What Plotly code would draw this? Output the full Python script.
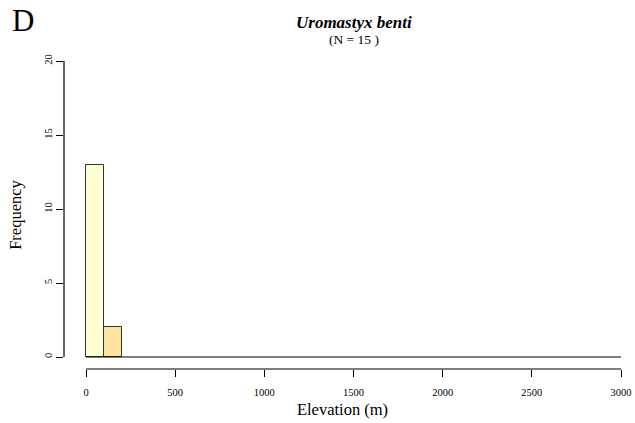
import plotly.graph_objects as go

bin_edges = list(range(0, 3100, 100))
counts = [13, 2] + [0] * 28
bar_colors = ["#FFFFD4", "#FFE4A0"]
x_ticks = [0, 500, 1000, 1500, 2000, 2500, 3000]
y_ticks = [0, 5, 10, 15, 20]
species = "Uromastyx benti"
n_total = sum(counts)

FONT = "Liberation Serif"
centers = [(bin_edges[i] + bin_edges[i + 1]) / 2 for i in range(len(counts))]
nz = [i for i, c in enumerate(counts) if c > 0]

fig = go.Figure()
fig.add_trace(go.Scatter(
    x=[bin_edges[0], bin_edges[-1]], y=[0, 0], mode="lines",
    line=dict(color="black", width=1.2), hoverinfo="skip", showlegend=False))
fig.add_trace(go.Bar(
    x=[centers[i] for i in nz], y=[counts[i] for i in nz], width=100,
    marker=dict(color=[bar_colors[k % len(bar_colors)] for k in range(len(nz))],
                line=dict(color="#333333", width=1)),
    showlegend=False))

fig.update_layout(
    width=635, height=423,
    margin=dict(l=64, r=14, t=61, b=54),
    plot_bgcolor="white", paper_bgcolor="white",
    font=dict(family=FONT, color="black"),
    bargap=0,
    xaxis=dict(range=[-123.4, 3000], tickvals=x_ticks, ticks="outside", ticklen=7,
               tickcolor="black", showgrid=False, zeroline=False, showline=False,
               automargin=False, ticklabelstandoff=6,
               tickfont=dict(size=10.5, family=FONT),
               title=dict(text="Elevation (m)", font=dict(size=16.5, family=FONT), standoff=6)),
    yaxis=dict(range=[-0.8108, 20], tickvals=y_ticks, ticks="outside", ticklen=7,
               tickcolor="black", showgrid=False, zeroline=False, showline=False,
               automargin=False,
               tickangle=-90, tickfont=dict(size=10.5, family=FONT),
               title=dict(text="Frequency", font=dict(size=16.5, family=FONT), standoff=17)),
    shapes=[
        dict(type="line", xref="x", yref="paper", x0=x_ticks[0], x1=x_ticks[-1], y0=0, y1=0,
             line=dict(color="black", width=1.2)),
        dict(type="line", xref="paper", yref="y", x0=0, x1=0, y0=y_ticks[0], y1=y_ticks[-1],
             line=dict(color="black", width=1.2)),
    ],
    annotations=[
        dict(text="D", xref="paper", yref="paper", x=-0.097, y=1.0, yshift=41,
             xanchor="left", yanchor="middle", showarrow=False,
             font=dict(size=31, family=FONT)),
        dict(text=f"<b><i>{species}</i></b>", xref="x", yref="paper", x=1500, y=1.0, yshift=39,
             xanchor="center", yanchor="middle", showarrow=False,
             font=dict(size=17, family=FONT)),
        dict(text=f"(N = {n_total} )", xref="x", yref="paper", x=1500, y=1.0, yshift=22,
             xanchor="center", yanchor="middle", showarrow=False,
             font=dict(size=13.5, family=FONT)),
    ],
)

fig.write_html("out.html", config={"displayModeBar": False},
               post_script="document.body.style.margin='0';")
